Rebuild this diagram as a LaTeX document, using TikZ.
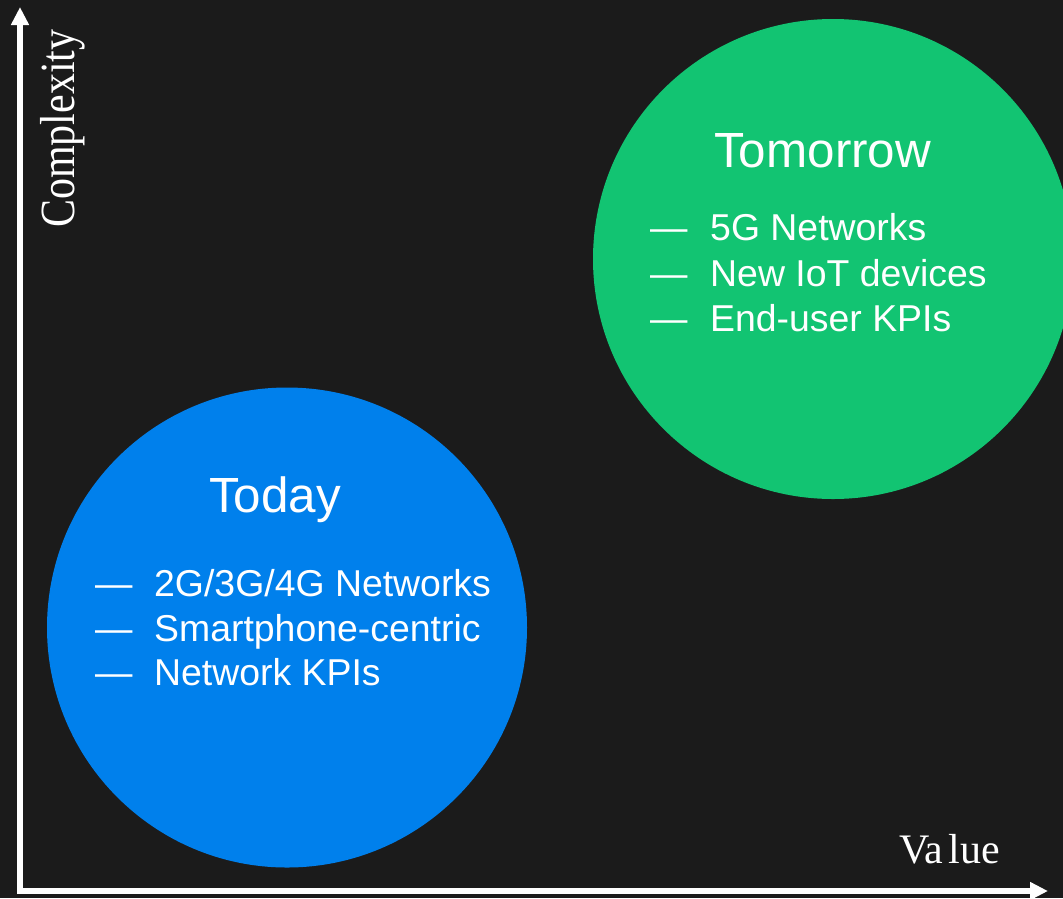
\documentclass[tikz,border=0pt]{standalone}
\usepackage{fontspec}
\setmainfont{Liberation Serif}
\newfontfamily\labelsans{Liberation Sans}
\usetikzlibrary{arrows.meta}

\definecolor{bgdark}{RGB}{27,27,27}
\definecolor{todayblue}{RGB}{0,128,236}
\definecolor{tomorrowgreen}{RGB}{18,196,114}

\begin{document}
\begin{tikzpicture}[x=1pt,y=-1pt,
  bubble/.style={circle,inner sep=0pt,minimum size=480pt},
  title/.style={anchor=base west,inner sep=0pt,text=white,
    font=\labelsans\fontsize{49.4}{56}\selectfont},
  item/.style={anchor=base west,inner sep=0pt,text=white,
    font=\labelsans\fontsize{37.4}{44}\selectfont},
  axislabel/.style={anchor=base west,inner sep=0pt,text=white,
    font=\fontsize{42}{50}\selectfont},
  axis/.style={draw=white,line width=5.5pt,
    arrows={Triangle[length=18pt,width=17pt]-Triangle[length=18pt,width=17pt]}}]

  % canvas
  \fill[bgdark] (0,0) rectangle (1063,898);
  \useasboundingbox (0,0) rectangle (1063,898);

  % the two stages
  \node[bubble,fill=todayblue] (today) at (287,627.5) {};
  \node[bubble,fill=tomorrowgreen] (tomorrow) at (833,259) {};

  % Today
  \node[title] (todaytitle) at (209,512.5) {Today};
  \node[item] (td1) at (95,596.5) {—};
  \node[item] (tt1) at (154,596.5){2G/3G/4G Networks};
  \node[item] (td2) at (95,641)   {—};
  \node[item] (tt2) at (154,641)  {Smartphone-centric};
  \node[item] (td3) at (95,685)   {—};
  \node[item] (tt3) at (154,685)  {Network KPIs};

  % Tomorrow
  \node[title] (tomorrowtitle) at (714,167.5) {Tomorrow};
  \node[item] (gd1) at (650,240.5) {—};
  \node[item] (gt1) at (710,240.5) {5G Networks};
  \node[item] (gd2) at (650,286)   {—};
  \node[item] (gt2) at (710,286)   {New IoT devices};
  \node[item] (gd3) at (650,331)   {—};
  \node[item] (gt3) at (710,331)   {End-user KPIs};

  % axes
  \coordinate (origin) at (20,891);
  \coordinate (ytip) at (20,7);
  \coordinate (xtip) at (1048,891);
  \draw[axis] (ytip) -- (origin) -- (xtip);

  \node[axislabel,rotate=90] (ylabel) at (74,228)
    {\scalebox{1}[1.17]{Complexity}};
  \node[axislabel] (xlabel) at (899,863) {Va\hspace{5pt}lue};
\end{tikzpicture}
\end{document}
